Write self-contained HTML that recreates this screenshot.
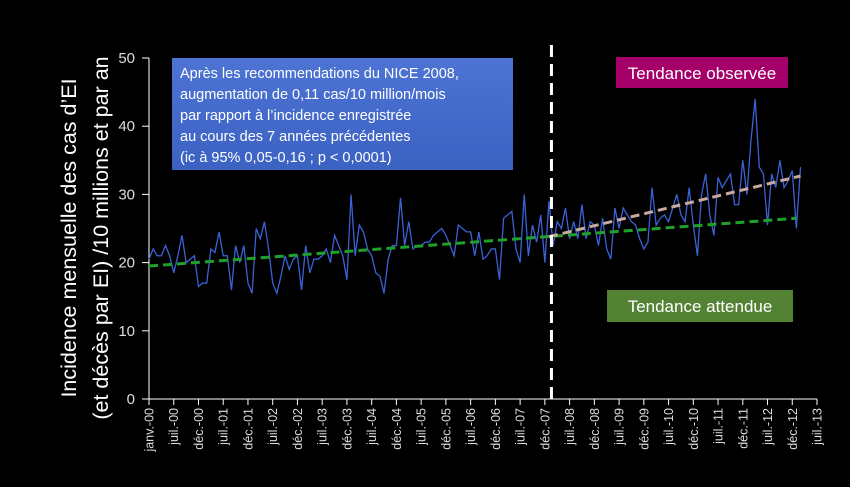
<!DOCTYPE html>
<html><head><meta charset="utf-8"><style>
html,body{margin:0;padding:0;background:#000;}
svg{display:block;font-family:"Liberation Sans",sans-serif;}
</style></head><body>
<svg id="chart" width="850" height="487" viewBox="0 0 850 487" xmlns="http://www.w3.org/2000/svg">
<defs><linearGradient id="bg" x1="0" y1="0" x2="0" y2="1"><stop offset="0" stop-color="#4d74d4"/><stop offset="1" stop-color="#3b62c2"/></linearGradient></defs>
<rect width="850" height="487" fill="#000"/>
<g id="yaxis"></g>
<g id="xaxis"></g>
<g fill="#fff" font-size="21.5">
<text transform="translate(76,238) rotate(-90)" text-anchor="middle">Incidence mensuelle  des cas d’EI</text>
<text transform="translate(108,238) rotate(-90)" text-anchor="middle">(et décès par EI) /10 millions et par an</text>
</g>
<g id="series"></g>
<rect x="172" y="58" width="341" height="112" fill="url(#bg)"/>
<g fill="#fff" font-size="14.5">
<text x="180" y="78">Après les recommendations du NICE 2008,</text>
<text x="180" y="99">augmentation de 0,11 cas/10 million/mois</text>
<text x="180" y="120">par rapport à l’incidence enregistrée</text>
<text x="180" y="141">au cours des 7 années précédentes</text>
<text x="180" y="162">(ic à 95% 0,05-0,16 ; p &lt; 0,0001)</text>
</g>
<rect x="616" y="57" width="172" height="31" fill="#a5006a"/>
<text x="702" y="79" fill="#fff" font-size="17" text-anchor="middle">Tendance observée</text>
<rect x="607" y="290" width="186" height="32" fill="#548235"/>
<text x="700" y="312" fill="#fff" font-size="17" text-anchor="middle">Tendance attendue</text>
</svg>
<script>
const yTicks=[0,10,20,30,40,50];
const xLabels=["janv.-00","juil.-00","déc.-00","juil.-01","déc.-01","juil.-02","déc.-02","juil.-03","déc.-03","juil.-04","déc.-04","juil.-05","déc.-05","juil.-06","déc.-06","juil.-07","déc.-07","juil.-08","déc.-08","juil.-09","déc.-09","juil.-10","déc.-10","juil.-11","déc.-11","juil.-12","déc.-12","juil.-13"];
const values=[20.5,22,21,21,22.5,21,18.5,21,24,20,20.5,21,
16.5,17,17,22,21.5,24.5,21,21,16,22.5,20,22.5,
17,15.5,25,23.5,26,22,17,15.5,18,21,19,20.5,
21,16,22.5,18.5,20.5,20.5,21,22,20,24,22.5,21,
17.5,30,21,25.5,24.5,22,21,18.5,18,15.5,20.5,22.5,
22.5,29.5,22.5,26,22,22.5,22.5,23,23,24,24.5,25,
24,22.5,21,25.5,25,24.5,24.5,21,24.5,20.5,21,22,
22,17.5,26.5,27,27.5,22,20,30,21,25.5,23,27,
20,29,22.5,26,25,28,23.5,26,23.5,28.5,23.5,26,
25.5,22.5,26.5,22,20.5,28,25,28,27,26,25.5,23.5,
22,23,31,25.5,26.5,27,26,28,30,27,26,31,
25.5,21,30,33,27,24,32.5,31,32,33,28.5,28.5,
35,30,38,44,34,33,25.5,33,31,35,31,32,
33.5,25,34];
const expectedTrend=[[0,19.5],[157,26.5]];
const observedTrend=[[97,23.8],[158,32.7]];
const breakMonth=97.6;
const NS="http://www.w3.org/2000/svg";
const x0=149,x1=817,yb=399,yt=58,months=162;
const X=m=>x0+m*(x1-x0)/months;
const Y=v=>yb-v*(yb-yt)/50;
function mk(t,a,p){const e=document.createElementNS(NS,t);for(const k in a)e.setAttribute(k,a[k]);p.appendChild(e);return e;}
const ya=document.getElementById('yaxis'),xa=document.getElementById('xaxis'),sg=document.getElementById('series');
const yl=mk('line',{x1:x0,y1:yt,x2:x0,y2:yb,stroke:'#fff','stroke-width':1},ya);

yTicks.forEach(v=>{
 const t=mk('line',{x1:x0-7,y1:Y(v),x2:x0,y2:Y(v),stroke:'#fff'},ya);
 
 const l=mk('text',{x:x0-14,y:Y(v)+5,fill:'#ddd','font-size':15,'text-anchor':'end'},ya);l.textContent=v;
 
});
const xl=mk('line',{x1:x0,y1:yb,x2:x1,y2:yb,stroke:'#fff','stroke-width':1},xa);

xLabels.forEach((s,i)=>{
 const x=x0+i*(x1-x0)/(xLabels.length-1);
 const t=mk('line',{x1:x,y1:yb,x2:x,y2:yb+6,stroke:'#fff'},xa);
 
 const l=mk('text',{transform:`translate(${x+4.5},${yb+9}) rotate(-90)`,fill:'#ddd','font-size':12.5,'text-anchor':'end'},xa);l.textContent=s;
 
});
const pl=mk('polyline',{points:values.map((v,i)=>X(i)+','+Y(v)).join(' '),fill:'none',stroke:'#3a62d6','stroke-width':1.3},sg);

const g=mk('line',{x1:X(expectedTrend[0][0]),y1:Y(expectedTrend[0][1]),x2:X(expectedTrend[1][0]),y2:Y(expectedTrend[1][1]),stroke:'#1fa02a','stroke-width':3,'stroke-dasharray':'9,5'},sg);

const o=mk('line',{x1:X(observedTrend[0][0]),y1:Y(observedTrend[0][1]),x2:X(observedTrend[1][0]),y2:Y(observedTrend[1][1]),stroke:'#c9a89e','stroke-width':3,'stroke-dasharray':'9,5'},sg);

const d=mk('line',{x1:X(breakMonth),y1:45,x2:X(breakMonth),y2:yb+2,stroke:'#fff','stroke-width':3,'stroke-dasharray':'12,7'},sg);

</script>
</body></html>
